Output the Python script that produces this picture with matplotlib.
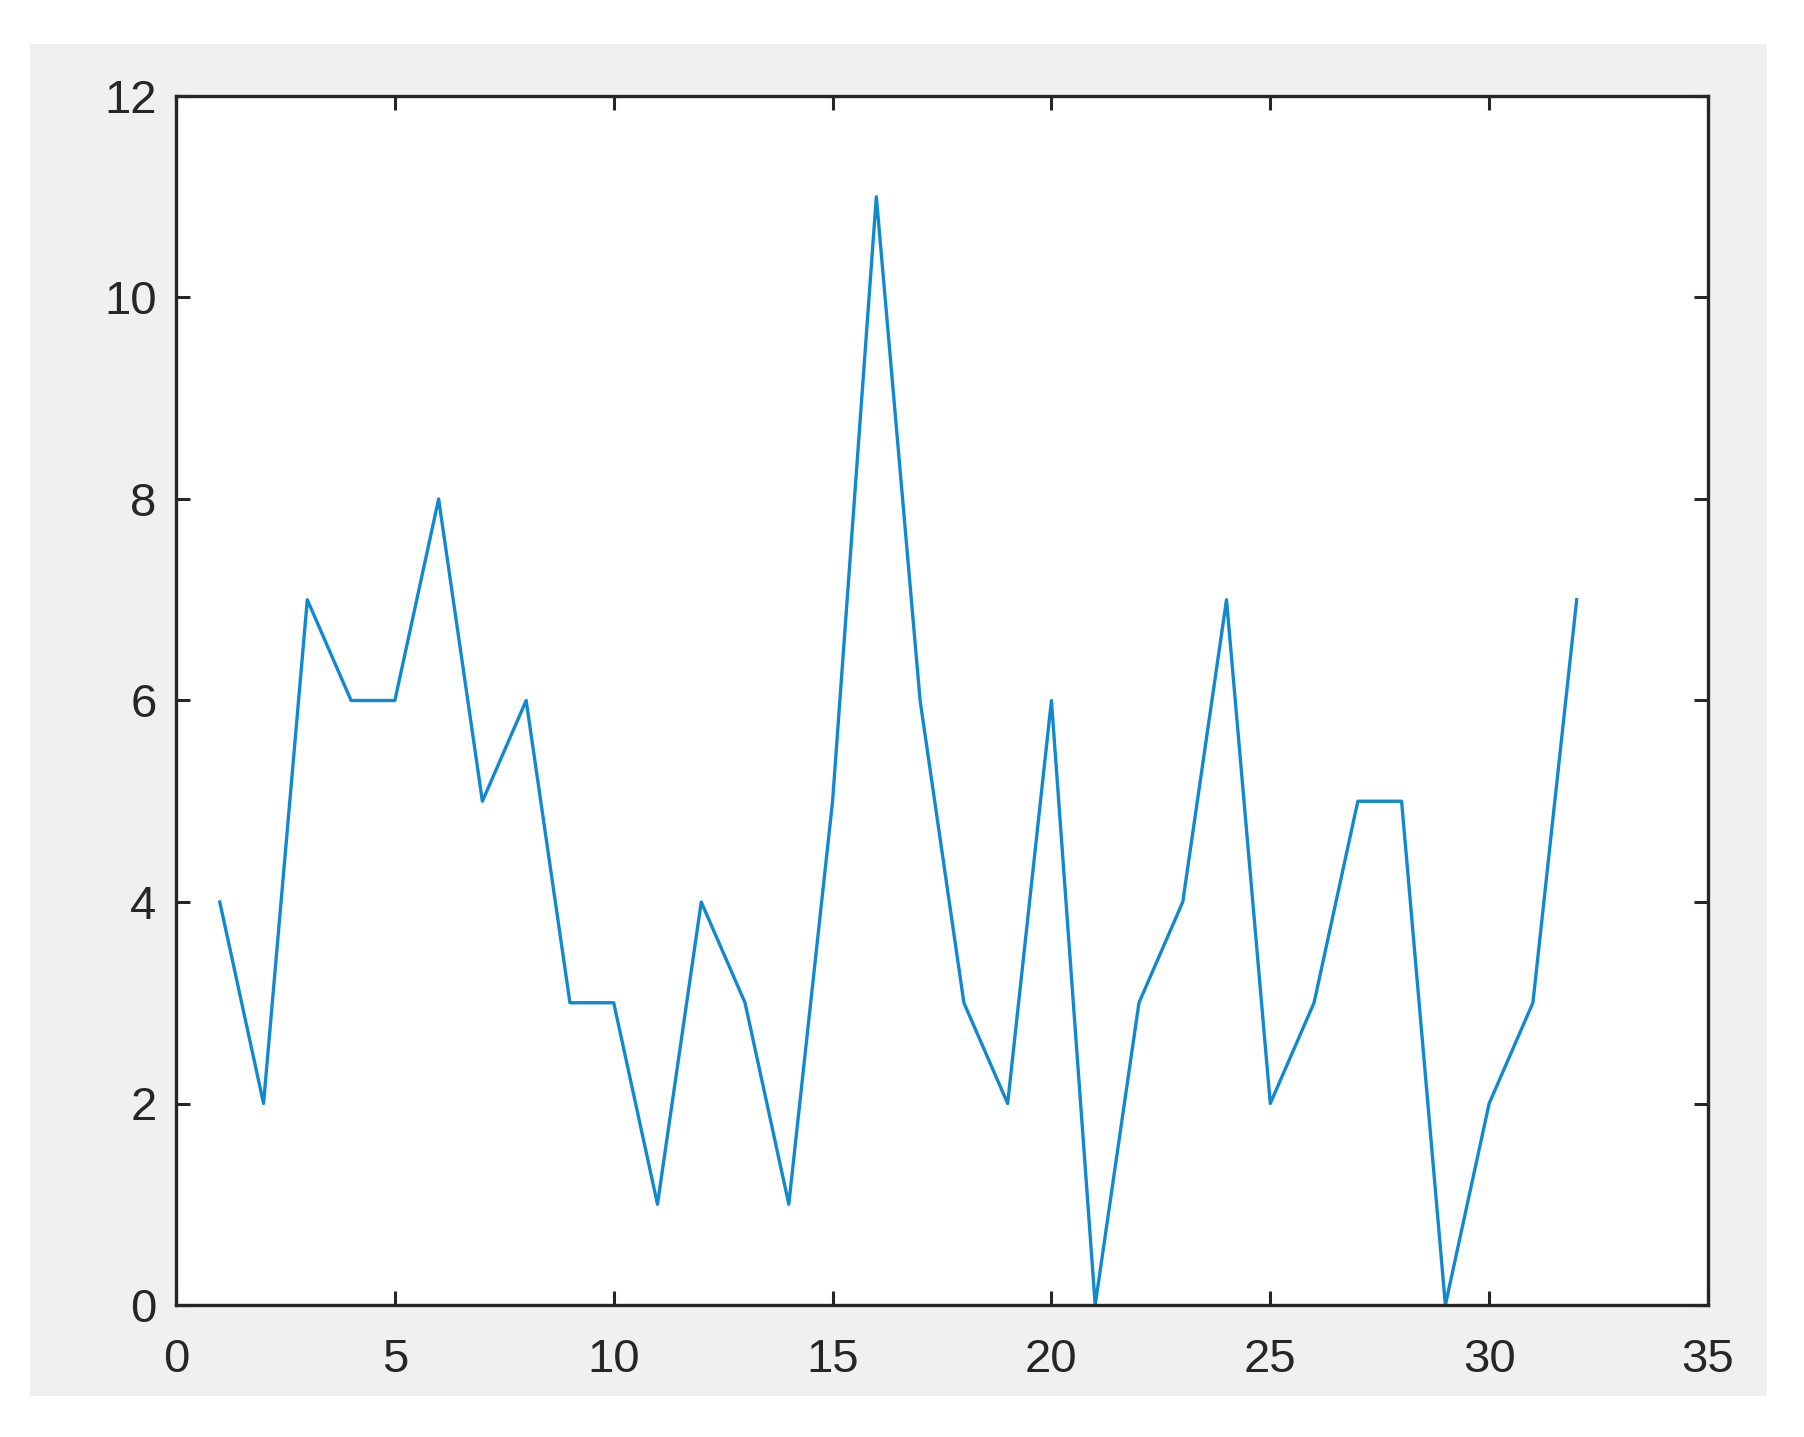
import matplotlib.pyplot as plt
from matplotlib.patches import Rectangle

plt.rcParams['font.family'] = ['Liberation Sans', 'DejaVu Sans']

# data set
x = list(range(1, 33))
y = [4, 2, 7, 6, 6, 8, 5, 6, 3, 3, 1, 4, 3, 1, 5, 11,
     6, 3, 2, 6, 0, 3, 4, 7, 2, 3, 5, 5, 0, 2, 3, 7]
xticks = [0, 5, 10, 15, 20, 25, 30, 35]
yticks = [0, 2, 4, 6, 8, 10, 12]

fig = plt.figure(figsize=(18.04, 14.37), dpi=100)
fig.patch.set_facecolor('white')

# grey matlab-style panel, behind the axes
fig.patches.append(Rectangle((30 / 1804, 1 - 1396 / 1437), (1767 - 30) / 1804, (1396 - 44) / 1437,
                             transform=fig.transFigure, facecolor='#f0f0f0', edgecolor='none', zorder=-5))

ax = fig.add_axes([176 / 1804, 1 - 1305 / 1437, (1708 - 176) / 1804, (1305 - 96) / 1437])
ax.set_facecolor('white')
ax.plot(x, y, color='#1189cf', linewidth=2.4)

ax.set_xlim(0, 35)
ax.set_ylim(0, 12)
ax.set_xticks(xticks)
ax.set_yticks(yticks)
ax.tick_params(direction='in', length=10, width=2.2, top=True, right=True,
               labelsize=34, colors='#262626')
ax.tick_params(axis='x', pad=24)
ax.tick_params(axis='y', pad=14)
for s in ax.spines.values():
    s.set_linewidth(2.4)
    s.set_color('#262626')

plt.savefig('out.png', dpi=100)
